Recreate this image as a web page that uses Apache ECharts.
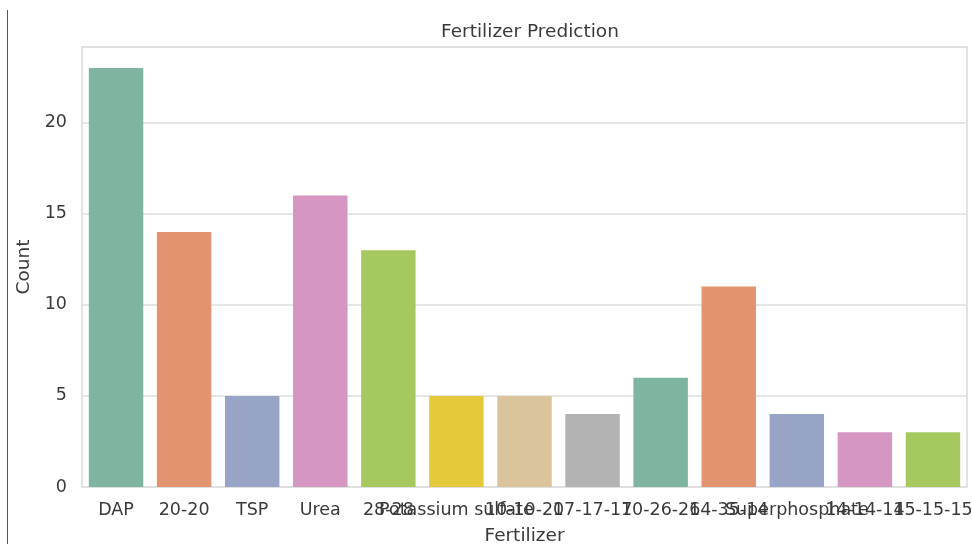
<!DOCTYPE html>
<html>
<head>
<meta charset="utf-8">
<script src="https://cdn.jsdelivr.net/npm/echarts@6/dist/echarts.min.js"></script>
<style>
  html, body { margin: 0; padding: 0; background: #fff; }
  #chart { width: 972px; height: 544px; }
</style>
</head>
<body>
<div id="chart"></div>
<script>
  const fertilizers = ['DAP', '20-20', 'TSP', 'Urea', '28-28', 'Potassium sulfate', '10-10-20',
    '17-17-17', '10-26-26', '14-35-14', 'Superphosphate', '14-14-14', '15-15-15']
  const counts = [23, 14, 5, 16, 13, 5, 5, 4, 6, 11, 4, 3, 3]
  const yTicks = [0, 5, 10, 15, 20]

  // seaborn Set2, desaturated
  const palette = ['#7fb5a0', '#e2936f', '#98a4c6', '#d596c3', '#a6c95f', '#e5c93b', '#dac49c', '#b3b3b3']
  const font = 'DejaVu Sans'

  const chart = echarts.init(document.getElementById('chart'))
  chart.setOption({
    animation: false,
    title: {
      text: 'Fertilizer Prediction',
      left: 525,
      textAlign: 'center',
      top: 18,
      textStyle: { fontFamily: font, fontSize: 18.5, fontWeight: 'normal', color: '#3a3a3a' }
    },
    graphic: [{
      type: 'line',
      shape: { x1: 7.5, y1: 10, x2: 7.5, y2: 544 },
      style: { stroke: '#555', lineWidth: 1 }
    }],
    grid: {
      show: true,
      left: 82,
      right: 5,
      top: 47,
      bottom: 57,
      outerBoundsMode: 'none',
      borderColor: '#d9d9d9',
      borderWidth: 1.5
    },
    xAxis: {
      type: 'category',
      data: fertilizers,
      name: 'Fertilizer',
      nameLocation: 'middle',
      nameGap: 40,
      nameTextStyle: { fontFamily: font, fontSize: 18.5, color: '#3a3a3a' },
      axisLine: { show: false },
      axisTick: { show: false },
      axisLabel: {
        interval: 0,
        margin: 14,
        fontFamily: font,
        fontSize: 17.5,
        color: '#3a3a3a'
      }
    },
    yAxis: {
      type: 'value',
      min: 0,
      max: 24.15,
      interval: 5,
      name: 'Count',
      nameLocation: 'middle',
      nameGap: 45,
      nameTextStyle: { fontFamily: font, fontSize: 18.5, color: '#3a3a3a' },
      axisLine: { show: false },
      axisTick: { show: false },
      axisLabel: {
        margin: 15,
        fontFamily: font,
        fontSize: 17.5,
        color: '#3a3a3a',
        formatter: v => yTicks.includes(v) ? String(v) : ''
      },
      splitLine: { lineStyle: { color: '#dedede', width: 1.5 } }
    },
    series: [{
      type: 'bar',
      data: counts.map((v, i) => ({ value: v, itemStyle: { color: palette[i % palette.length] } })),
      barCategoryGap: '20%'
    }]
  })
</script>
</body>
</html>
